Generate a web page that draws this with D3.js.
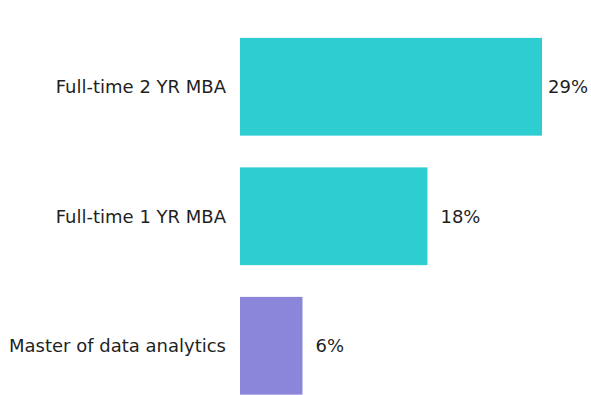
<!DOCTYPE html>
<html>
<head>
<meta charset="utf-8">
<script src="https://cdn.jsdelivr.net/npm/d3@7"></script>
<style>
  html, body { margin: 0; padding: 0; background: #ffffff; overflow: hidden; }
  svg { display: block; }
  text { font-family: "DejaVu Sans", Verdana, sans-serif; fill: #1f1f1f; }
</style>
</head>
<body>
<svg id="chart" width="591" height="395"></svg>
<script>
// Program types and their share (%)
const categories = ["Full-time 2 YR MBA", "Full-time 1 YR MBA", "Master of data analytics"];
const shares = [29, 18, 6];
const barColors = ["#2ecdd2", "#2ecdd2", "#8b86d9"];

const W = 591, H = 395;
const svg = d3.select("#chart");

const x = d3.scaleLinear().domain([0, 29]).range([240, 542]);
const y = d3.scaleBand()
  .domain(categories)
  .range([22, 410.5])
  .paddingInner(0.245)
  .paddingOuter(0.1225);

const rows = categories.map((c, i) => ({ c, v: shares[i], color: barColors[i] }));

svg.selectAll("rect.bar")
  .data(rows)
  .join("rect")
  .attr("class", "bar")
  .attr("x", x(0))
  .attr("y", d => y(d.c))
  .attr("width", d => x(d.v) - x(0))
  .attr("height", y.bandwidth())
  .attr("fill", d => d.color);

// Category labels, right-aligned beside the bars
svg.selectAll("text.cat")
  .data(rows)
  .join("text")
  .attr("class", "cat")
  .attr("x", 226)
  .attr("y", d => y(d.c) + y.bandwidth() / 2)
  .attr("dy", "0.35em")
  .attr("text-anchor", "end")
  .style("font-size", "18px")
  .text(d => d.c);

// Value labels after each bar end, kept inside the frame
svg.selectAll("text.val")
  .data(rows)
  .join("text")
  .attr("class", "val")
  .attr("y", d => y(d.c) + y.bandwidth() / 2)
  .attr("dy", "0.35em")
  .style("font-size", "18px")
  .text(d => d.v + "%")
  .attr("x", function(d) {
    const tw = this.getComputedTextLength();
    return Math.min(x(d.v) + 13, W - tw - 3);
  });
</script>
</body>
</html>
